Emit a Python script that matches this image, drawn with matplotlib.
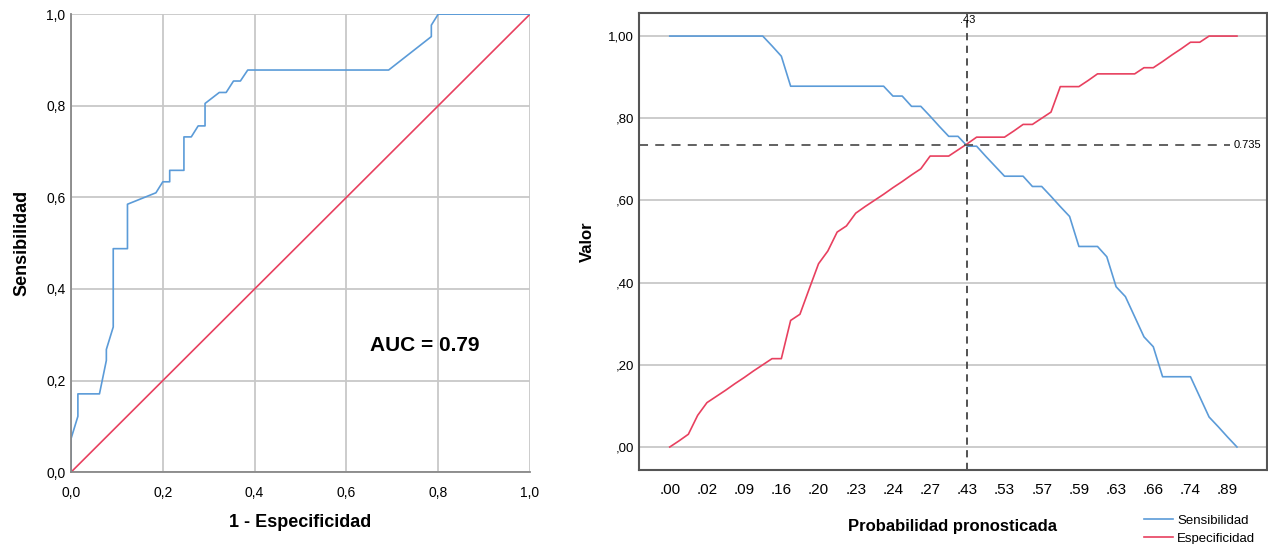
import numpy as np
import matplotlib
matplotlib.use('Agg')
import matplotlib.pyplot as plt

plt.rcParams['font.family'] = ['Liberation Sans', 'DejaVu Sans']

# ROC curve (left panel)
roc_fpr = [0.0, 0.0, 0.015, 0.015, 0.062, 0.077, 0.077, 0.092, 0.092, 0.123, 0.123,
           0.185, 0.200, 0.215, 0.215, 0.246, 0.246, 0.262, 0.277, 0.292, 0.292,
           0.323, 0.338, 0.354, 0.369, 0.385, 0.692, 0.785, 0.785, 0.800, 1.0]
roc_tpr = [0.0, 0.073, 0.122, 0.171, 0.171, 0.244, 0.268, 0.317, 0.488, 0.488, 0.585,
           0.610, 0.634, 0.634, 0.659, 0.659, 0.732, 0.732, 0.756, 0.756, 0.805,
           0.829, 0.829, 0.854, 0.854, 0.878, 0.878, 0.951, 0.976, 1.0, 1.0]
auc_text = 'AUC = 0.79'

# sensitivity / specificity per cut-off (right panel), 62 cut-offs
sensibilidad = [1.000, 1.000, 1.000, 1.000, 1.000, 1.000, 1.000, 1.000, 1.000, 1.000,
                1.000, 0.976, 0.951, 0.878, 0.878, 0.878, 0.878, 0.878, 0.878, 0.878,
                0.878, 0.878, 0.878, 0.878, 0.854, 0.854, 0.829, 0.829, 0.805, 0.780,
                0.756, 0.756, 0.732, 0.732, 0.707, 0.683, 0.659, 0.659, 0.659, 0.634,
                0.634, 0.610, 0.585, 0.561, 0.488, 0.488, 0.488, 0.463, 0.390, 0.366,
                0.317, 0.268, 0.244, 0.171, 0.171, 0.171, 0.171, 0.122, 0.073, 0.049,
                0.024, 0.000]
especificidad = [0.000, 0.015, 0.031, 0.077, 0.108, 0.123, 0.138, 0.154, 0.169, 0.185,
                 0.200, 0.215, 0.215, 0.308, 0.323, 0.385, 0.446, 0.477, 0.523, 0.538,
                 0.569, 0.585, 0.600, 0.615, 0.631, 0.646, 0.662, 0.677, 0.708, 0.708,
                 0.708, 0.723, 0.738, 0.754, 0.754, 0.754, 0.754, 0.769, 0.785, 0.785,
                 0.800, 0.815, 0.877, 0.877, 0.877, 0.892, 0.908, 0.908, 0.908, 0.908,
                 0.908, 0.923, 0.923, 0.938, 0.954, 0.969, 0.985, 0.985, 1.000, 1.000,
                 1.000, 1.000]
prob_labels = ['.00', '.02', '.09', '.16', '.20', '.23', '.24', '.27',
               '.43', '.53', '.57', '.59', '.63', '.66', '.74', '.89']
label_step = 4
cut_index = 32
cut_label = '.43'
cross_value = 0.735

blue = '#5b9bd8'
red = '#e8405f'
grid_c = '#c8c8c8'

fig = plt.figure(figsize=(12.68, 5.44), dpi=100)

# ---------- left: ROC ----------
ax1 = fig.add_axes([0.056, 0.132, 0.362, 0.842])
ax1.set_xlim(0, 1)
ax1.set_ylim(0, 1)
ax1.grid(True, color=grid_c, lw=1.3)
ax1.set_axisbelow(True)
ax1.plot([0, 1], [0, 1], color=red, lw=1.2)
ax1.plot(roc_fpr, roc_tpr, color=blue, lw=1.2)
ticks = np.arange(0, 1.01, 0.2)
ax1.set_xticks(ticks)
ax1.set_yticks(ticks)
ax1.set_xticklabels([f'{t:.1f}'.replace('.', ',') for t in ticks])
ax1.set_yticklabels([f'{t:.1f}'.replace('.', ',') for t in ticks])
ax1.tick_params(length=0, labelsize=10, pad=4)
ax1.tick_params(axis='x', pad=10)
for s in ['top', 'right']:
    ax1.spines[s].set_visible(False)
for s in ['left', 'bottom']:
    ax1.spines[s].set_color('#888888')
    ax1.spines[s].set_linewidth(1.3)
ax1.set_xlabel('1 - Especificidad', fontsize=13, fontweight='bold', labelpad=10)
ax1.set_ylabel('Sensibilidad', fontsize=13, fontweight='bold', labelpad=11)
ax1.text(0.651, 0.277, auc_text, fontsize=15, fontweight='bold', va='center')

# ---------- right: sensitivity / specificity ----------
ax2 = fig.add_axes([0.504, 0.136, 0.495, 0.840])
x = np.arange(len(sensibilidad))
ax2.set_xlim(-3.3, 64.2)
ax2.set_ylim(-0.056, 1.056)
ax2.yaxis.grid(True, color=grid_c, lw=1.3)
ax2.set_axisbelow(True)
l1, = ax2.plot(x, sensibilidad, color=blue, lw=1.2, label='Sensibilidad')
l2, = ax2.plot(x, especificidad, color=red, lw=1.2, label='Especificidad')
ax2.axvline(cut_index, color='#444444', lw=1.3, ls=(0, (4, 3)))
ax2.plot([-3.3, 60.3], [cross_value, cross_value], color='#555555', lw=1.3, ls=(0, (5, 4)))
ax2.text(cut_index, 1.038, cut_label, fontsize=8, ha='center', va='center')
ax2.text(60.6, cross_value, '0.735', fontsize=8, ha='left', va='center')
ax2.set_xticks(x[::label_step])
ax2.set_xticklabels(prob_labels)
yt = [0, 0.2, 0.4, 0.6, 0.8, 1.0]
ax2.set_yticks(yt)
ax2.set_yticklabels(['1,00' if t == 1 else ',' + f'{t:.2f}'[2:] for t in yt])
ax2.tick_params(length=0, labelsize=9.5)
ax2.tick_params(axis='x', pad=9, labelsize=11)
for s in ax2.spines.values():
    s.set_color('#555555')
    s.set_linewidth(1.5)
ax2.set_xlabel('Probabilidad pronosticada', fontsize=12, fontweight='bold', labelpad=16)
ax2.set_ylabel('Valor', fontsize=12, fontweight='bold', labelpad=10)
fig.legend(handles=[l1, l2], loc='lower right', bbox_to_anchor=(0.995, -0.014),
           frameon=False, fontsize=9.5, handlelength=2.2, handletextpad=0.3,
           labelspacing=0.45, borderaxespad=0.1)

fig.savefig('out.png', dpi=100)
